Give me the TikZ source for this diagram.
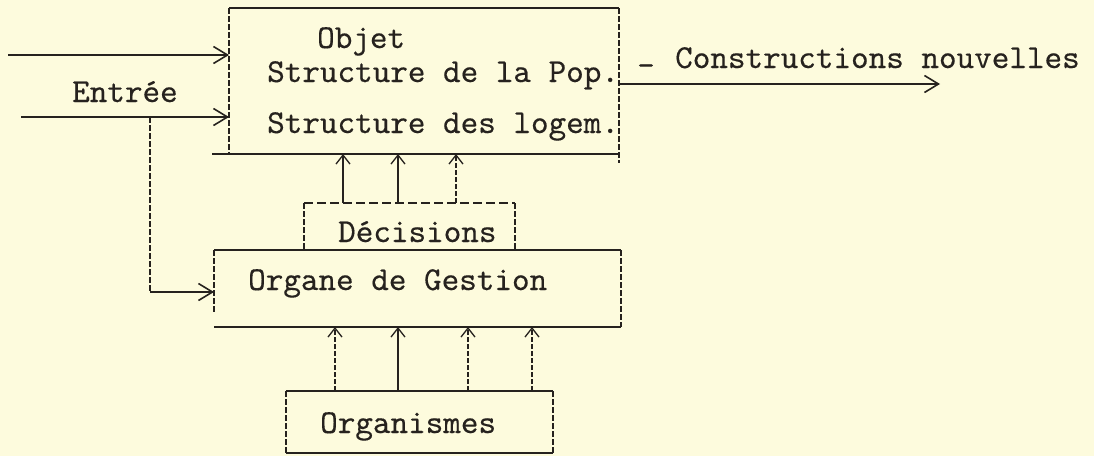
\documentclass[tikz,border=0pt]{standalone}
\usepackage{fontspec}
\newfontfamily\typew{lmmono10-regular.otf}[FakeBold=0.35]
\usetikzlibrary{arrows.meta}
\definecolor{paper}{RGB}{253,251,221}
\definecolor{ink}{RGB}{38,34,30}
\begin{document}
\begin{tikzpicture}[x=1pt,y=-1pt,
  boxnode/.style={rectangle,inner sep=0pt,outer sep=0pt,draw=none},
  hline/.style={ink,line width=2.6pt},
  vline/.style={ink,line width=1.1pt,dash pattern=on 6pt off 2pt},
  dline/.style={ink,line width=2.4pt,dash pattern=on 9pt off 4pt},
  harr/.style={ink,line width=1.8pt,-{Straight Barb[length=14pt,width=17pt,line width=1.6pt]}},
  uparr/.style={ink,line width=1.3pt,-{Straight Barb[length=9pt,width=14pt,line width=1.3pt]}},
  upd/.style={uparr,dash pattern=on 5pt off 2pt},
  lbl/.style={font=\typew\fontsize{33.5}{38}\selectfont,text=ink,inner sep=0pt,anchor=base west}]
\fill[paper] (0,0) rectangle (1094,456);
\useasboundingbox (0,0) rectangle (1094,456);

% boxes
\node[boxnode,minimum width=390pt,minimum height=146pt] (obj) at (424,81) {};
\node[boxnode,minimum width=211pt,minimum height=47pt] (dec) at (409.5,226.5) {};
\node[boxnode,minimum width=407pt,minimum height=77pt] (org) at (417.5,288.5) {};
\node[boxnode,minimum width=267pt,minimum height=62pt] (orgm) at (419.5,422) {};

% box outlines
\draw[hline] (obj.north west) -- (obj.north east);
\draw[hline] ([xshift=-17pt]obj.south west) -- (obj.south east);
\draw[vline] (obj.north west) -- (obj.south west);
\draw[vline] (obj.north east) -- ([yshift=-9pt]obj.south east);

\draw[dline] (dec.north west) -- (dec.north east);
\draw[vline] (dec.north west) -- (dec.south west);
\draw[vline] (dec.north east) -- (dec.south east);

\draw[hline] (org.north west) -- (org.north east);
\draw[hline] (org.south west) -- (org.south east);
\draw[vline] (org.north west) -- ([yshift=15pt]org.south west);
\draw[vline] (org.north east) -- (org.south east);

\draw[hline] (orgm.north west) -- (orgm.north east);
\draw[hline] (orgm.south west) -- (orgm.south east);
\draw[vline] (orgm.north west) -- (orgm.south west);
\draw[vline] (orgm.north east) -- (orgm.south east);

% texts
\node[lbl] (t1) at (317,48) {Objet};
\node[lbl] (t2) at (267,82) {Structure de la Pop.};
\node[lbl] (t3) at (267,133) {Structure des logem.};
\node[lbl] (ent) at (72,102) {Entrée};
\node[lbl] (tdec) at (338,242) {Décisions};
\node[lbl] (torg) at (248,290) {Organe de Gestion};
\node[lbl] (torgm) at (320,433) {Organismes};
\node[lbl] (tcon) at (675,68) {Constructions nouvelles};
\node[font=\typew\fontsize{33.5}{38}\selectfont,text=ink,inner sep=0pt] (dash) at (646,70) {-};

% entry arrows
\coordinate (e1) at (8,55);
\coordinate (e2) at (21,117);
\coordinate (br) at (150,117);
\coordinate (bk) at (150,292);
\draw[harr] (e1) -- (obj.west |- e1);
\draw[harr] (e2) -- (obj.west |- e2);
\draw[vline] (br) -- (bk);
\draw[harr,line width=1.4pt] (bk) -- (org.west |- bk);

% output arrow
\coordinate (o1) at (619,84);
\coordinate (o2) at (940,84);
\draw[harr] (obj.east |- o1) -- (o2);

% decisions -> objet
\coordinate (d1) at (343,0);
\coordinate (d2) at (398,0);
\coordinate (d3) at (456,0);
\draw[uparr] (dec.north -| d1) -- (obj.south -| d1);
\draw[uparr] (dec.north -| d2) -- (obj.south -| d2);
\draw[upd] (dec.north -| d3) -- (obj.south -| d3);

% organismes -> organe
\coordinate (g1) at (335,0);
\coordinate (g2) at (398,0);
\coordinate (g3) at (468,0);
\coordinate (g4) at (532,0);
\draw[upd] (orgm.north -| g1) -- (org.south -| g1);
\draw[uparr] (orgm.north -| g2) -- (org.south -| g2);
\draw[upd] (orgm.north -| g3) -- (org.south -| g3);
\draw[upd] (orgm.north -| g4) -- (org.south -| g4);
\end{tikzpicture}
\end{document}
